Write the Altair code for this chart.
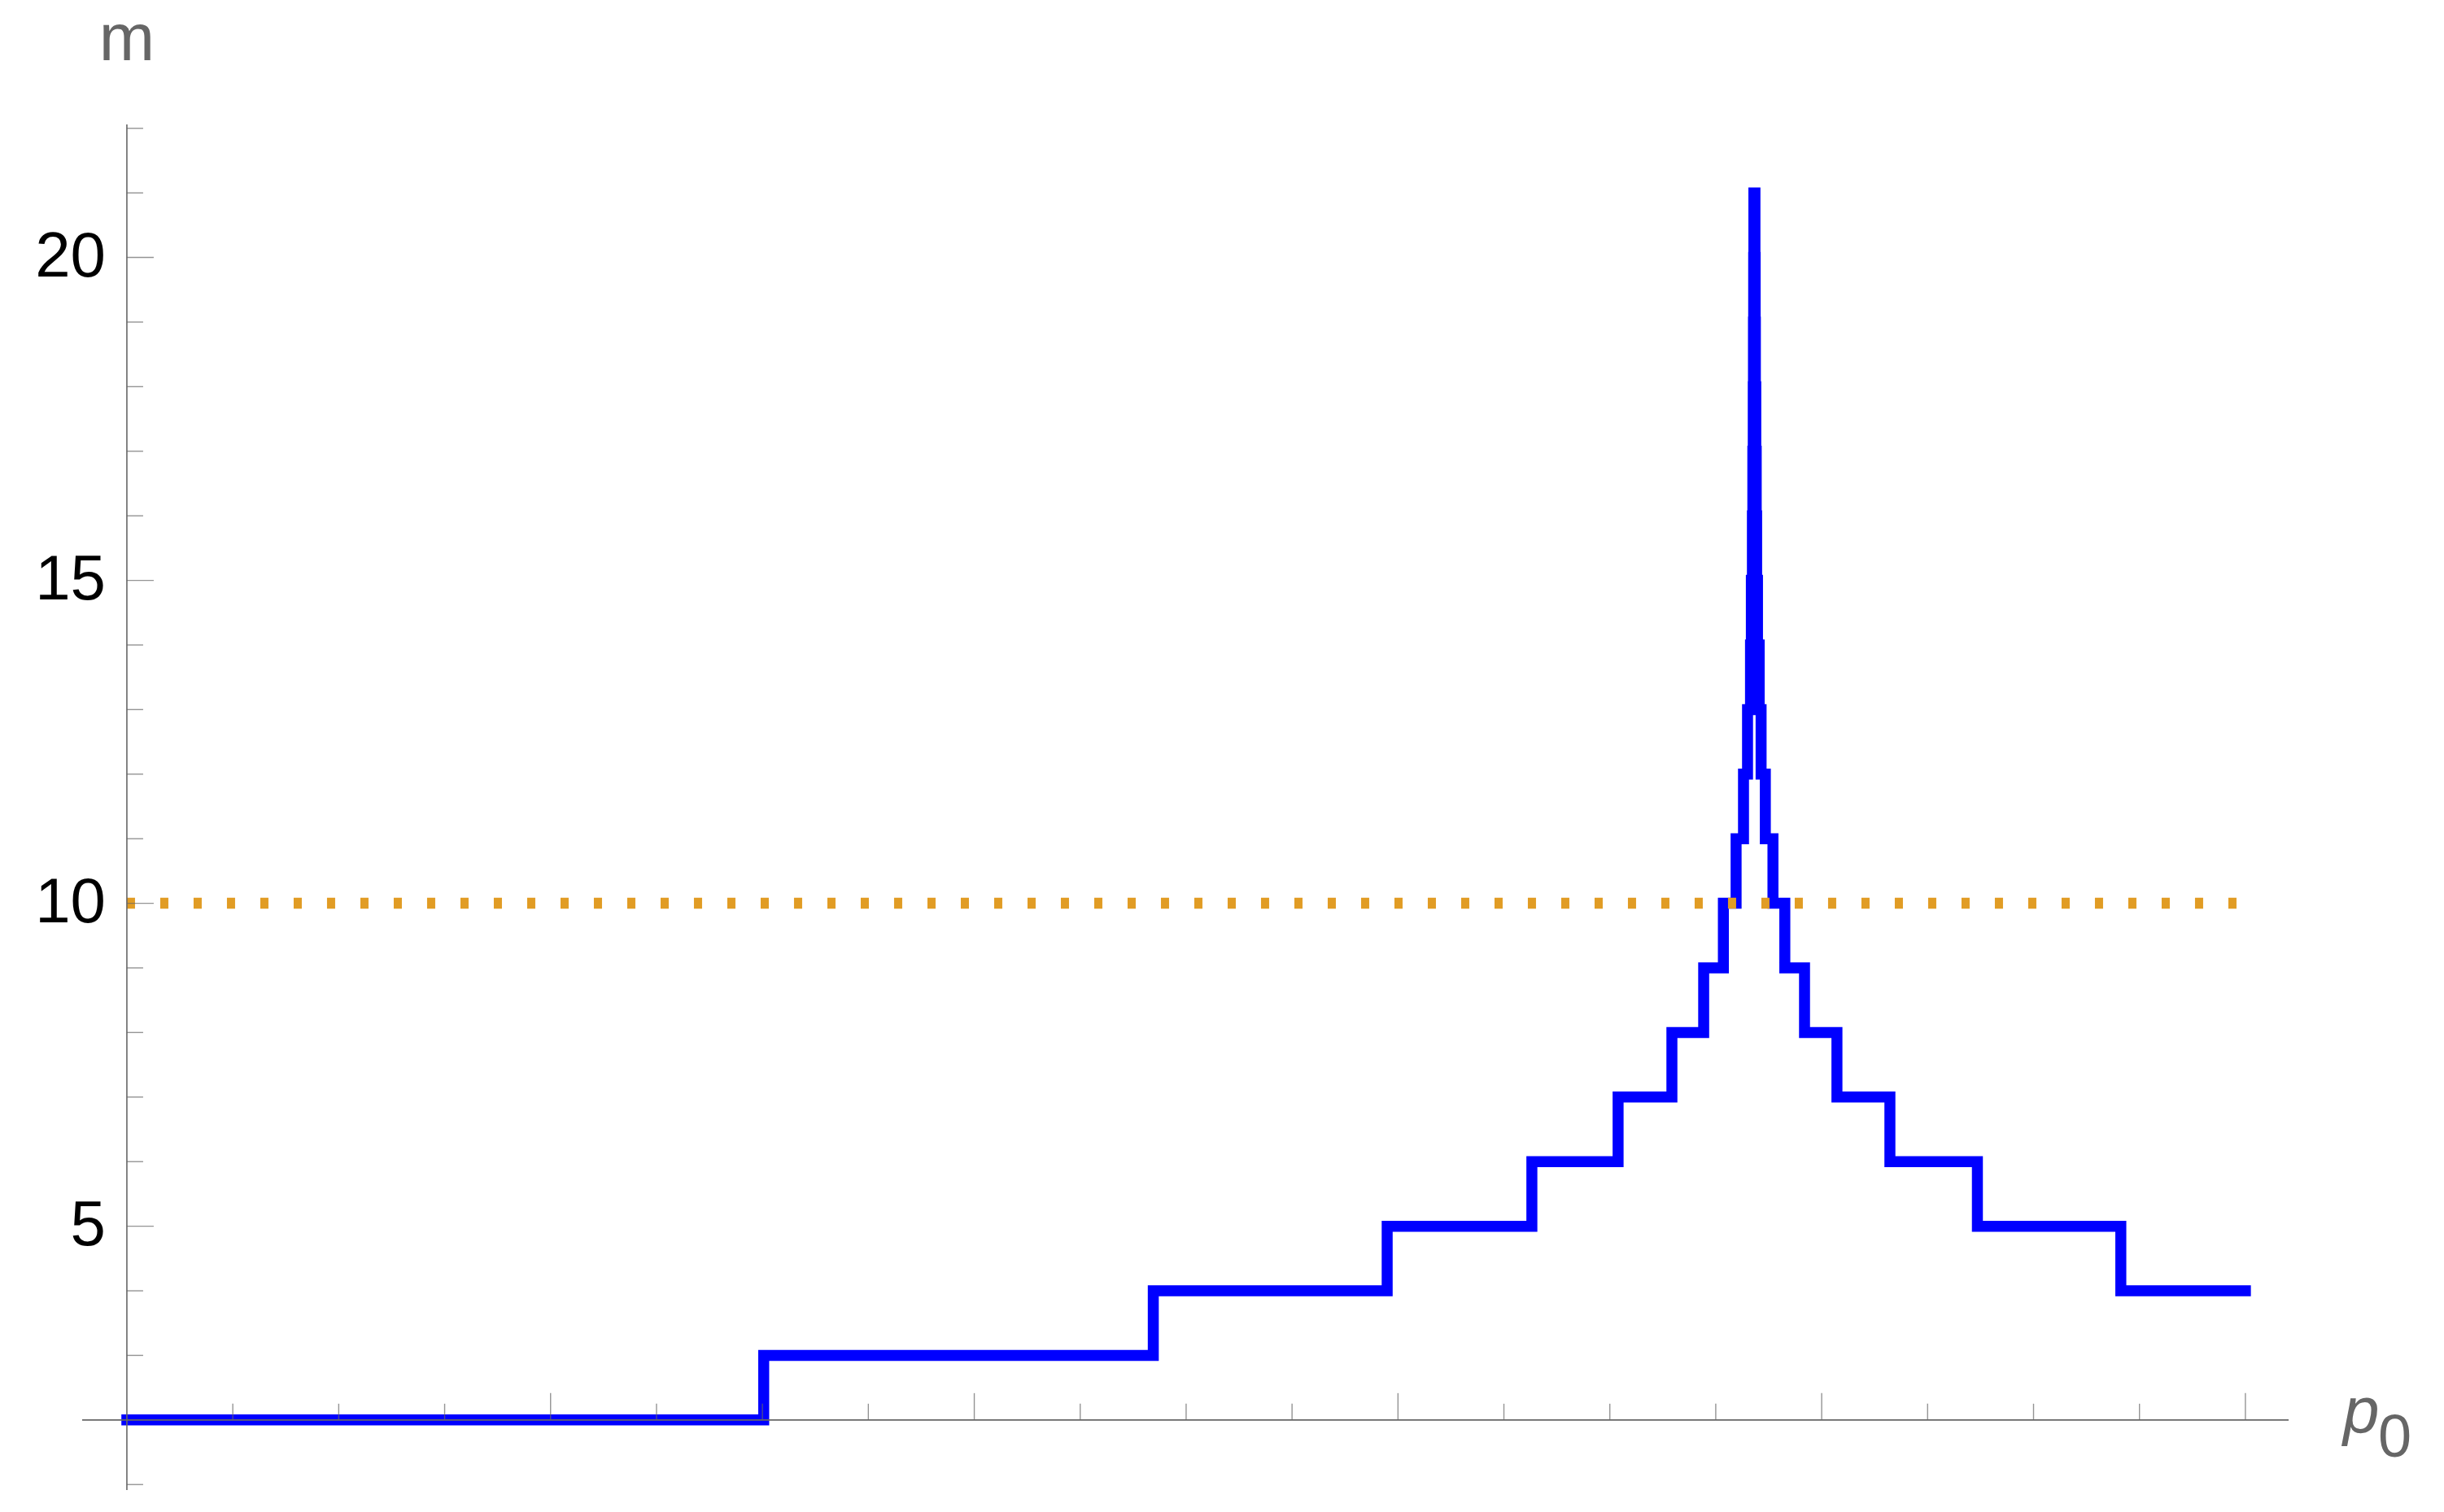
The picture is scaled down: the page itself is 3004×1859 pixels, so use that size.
import altair as alt
import pandas as pd

# ---- data ----
p0_breaks = [0.0, 0.3006, 0.4845, 0.5949, 0.6632, 0.7039, 0.7293, 0.7443, 0.7536,
             0.7596, 0.7631, 0.7650, 0.7664, 0.7668, 0.7673, 0.7675, 0.7677, 0.7678,
             0.7679, 0.7680, 0.7685, 0.7686, 0.7687, 0.7689, 0.7691, 0.7693, 0.7697,
             0.7705, 0.7714, 0.7734, 0.7770, 0.7826, 0.7919, 0.8072, 0.8322, 0.8735,
             0.9412, 1.0]
m_values = [2, 3, 4, 5, 6, 7, 8, 9, 10, 11, 12, 13, 14, 15, 16, 17, 18, 19, 20, 21,
            20, 19, 18, 17, 16, 15, 14, 13, 12, 11, 10, 9, 8, 7, 6, 5, 4, 4]

threshold_p0 = [0.0, 1.0]
threshold_m = [10, 10]

x_minor_ticks = [0.05, 0.1, 0.15, 0.25, 0.3, 0.35, 0.45, 0.5, 0.55, 0.65, 0.7, 0.75,
                 0.85, 0.9, 0.95]
x_major_ticks = [0.2, 0.4, 0.6, 0.8, 1.0]
y_minor_ticks = [1, 3, 4, 6, 7, 8, 9, 11, 12, 13, 14, 16, 17, 18, 19, 21, 22]
y_major_ticks = [5, 10, 15, 20]
y_tick_labels = ["5", "10", "15", "20"]

X_DOMAIN = [-0.0211, 1.0204]
Y_DOMAIN = [0.915, 22.06]
X_ORIGIN = 0
Y_ORIGIN = 2

AXIS_GRAY = "#666666"
BLUE = "#0000FF"
ORANGE = "#E19C24"
FONT = "Liberation Sans"

xs = alt.Scale(domain=X_DOMAIN, nice=False, zero=False)
ys = alt.Scale(domain=Y_DOMAIN, nice=False, zero=False)


def X(field):
    return alt.X(field, type="quantitative", scale=xs, axis=None)


def Y(field):
    return alt.Y(field, type="quantitative", scale=ys, axis=None)


step_df = pd.DataFrame({"p0": p0_breaks, "m": m_values})
thr_df = pd.DataFrame({"p0": threshold_p0, "m": threshold_m})
xminor_df = pd.DataFrame({"p0": x_minor_ticks, "m": [Y_ORIGIN] * len(x_minor_ticks)})
xmajor_df = pd.DataFrame({"p0": x_major_ticks, "m": [Y_ORIGIN] * len(x_major_ticks)})
yminor_df = pd.DataFrame({"m": y_minor_ticks, "p0": [X_ORIGIN] * len(y_minor_ticks)})
ymajor_df = pd.DataFrame({"m": y_major_ticks, "p0": [X_ORIGIN] * len(y_major_ticks),
                          "label": y_tick_labels})

step_line = alt.Chart(step_df).mark_line(
    interpolate="step-after", color=BLUE, strokeWidth=13.5,
    strokeCap="square", strokeJoin="miter"
).encode(x=X("p0"), y=Y("m"))

dotted = alt.Chart(thr_df).mark_line(
    color=ORANGE, strokeWidth=13.5, strokeDash=[10, 31], strokeCap="butt"
).encode(x=X("p0"), y=Y("m"))

x_axis_line = alt.Chart(pd.DataFrame({"m": [Y_ORIGIN]})).mark_rule(
    color=AXIS_GRAY, strokeWidth=1.6
).encode(y=Y("m"))

y_axis_line = alt.Chart(pd.DataFrame({"p0": [X_ORIGIN]})).mark_rule(
    color=AXIS_GRAY, strokeWidth=1.6
).encode(x=X("p0"))

x_minor = alt.Chart(xminor_df).mark_tick(
    orient="vertical", size=20, thickness=1.4, color=AXIS_GRAY, yOffset=-10
).encode(x=X("p0"), y=Y("m"))

x_major = alt.Chart(xmajor_df).mark_tick(
    orient="vertical", size=33, thickness=1.4, color=AXIS_GRAY, yOffset=-16.5
).encode(x=X("p0"), y=Y("m"))

y_minor = alt.Chart(yminor_df).mark_tick(
    orient="horizontal", size=20, thickness=1.4, color=AXIS_GRAY, xOffset=10
).encode(x=X("p0"), y=Y("m"))

y_major = alt.Chart(ymajor_df).mark_tick(
    orient="horizontal", size=33, thickness=1.4, color=AXIS_GRAY, xOffset=16.5
).encode(x=X("p0"), y=Y("m"))

y_labels = alt.Chart(ymajor_df).mark_text(
    align="right", baseline="middle", dx=-26, fontSize=78, font=FONT, color="black"
).encode(x=X("p0"), y=Y("m"), text="label:N")

m_title = alt.Chart(pd.DataFrame({"t": ["m"]})).mark_text(
    align="center", baseline="alphabetic", fontSize=82, font=FONT, color=AXIS_GRAY
).encode(x=alt.value(55), y=alt.value(-79), text="t:N")

p_title = alt.Chart(pd.DataFrame({"t": ["p"]})).mark_text(
    align="left", baseline="alphabetic", fontSize=80, font=FONT, fontStyle="italic",
    color=AXIS_GRAY
).encode(x=alt.value(2779), y=alt.value(1608), text="t:N")

p_sub = alt.Chart(pd.DataFrame({"t": ["0"]})).mark_text(
    align="left", baseline="alphabetic", fontSize=74, font=FONT, color=AXIS_GRAY
).encode(x=alt.value(2822), y=alt.value(1638), text="t:N")

chart = alt.layer(
    step_line, dotted, x_axis_line, y_axis_line, x_minor, x_major, y_minor, y_major,
    y_labels, m_title, p_title, p_sub
).properties(
    width=2712, height=1679,
    padding={"left": 93, "top": 145, "right": 183, "bottom": 19},
    autosize=alt.AutoSizeParams(type="none"),
    background="white",
).configure_view(stroke=None)

chart.save("out.html", embed_options={"renderer": "svg", "actions": False})
